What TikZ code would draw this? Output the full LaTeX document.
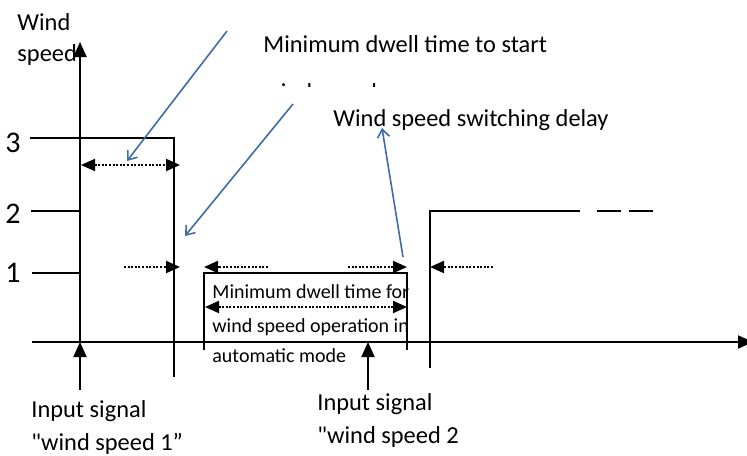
\documentclass[tikz,border=0pt]{standalone}
\usepackage{fontspec}
\setmainfont{Carlito}
\usetikzlibrary{arrows.meta}
\definecolor{bluearr}{RGB}{62,108,168}
\begin{document}
\begin{tikzpicture}[x=0.5pt,y=-0.5pt,
  bline/.style={line width=1pt},
  axisarrow/.style={line width=1pt,-{Triangle[length=7.5pt,width=6.5pt]}},
  dotarrow/.style={line width=1pt,dash pattern=on 1pt off 0.8pt,-{Triangle[length=7pt,width=6pt]}},
  dotboth/.style={line width=1pt,dash pattern=on 1pt off 0.8pt,{Triangle[length=7pt,width=6pt]}-{Triangle[length=7pt,width=6pt]}},
  callout/.style={draw=bluearr,line width=0.8pt,-{Straight Barb[length=4pt,width=6pt]}},
  lbl/.style={inner sep=0pt,anchor=base west,font=\fontsize{12.2}{14}\selectfont},
  digit/.style={inner sep=0pt,anchor=base west,font=\fontsize{15}{17}\selectfont},
  boxtxt/.style={inner sep=0pt,anchor=base west,font=\fontsize{10}{12}\selectfont}]
\useasboundingbox (0,0) rectangle (747,455);
% coordinates
\coordinate (O) at (80,342);
\coordinate (ytip) at (80,42);
\coordinate (xs) at (32,342);
\coordinate (xe) at (753,342);
\coordinate (in1) at (80,390);
\coordinate (in2b) at (368,390);
\coordinate (in2t) at (368,342);
\coordinate (l3a) at (30,138);
\coordinate (l3b) at (174,138);
\coordinate (l3c) at (174,377);
\coordinate (t2) at (31,211);
\coordinate (y2) at (80,211);
\coordinate (t1) at (32,273);
\coordinate (y1) at (80,273);
\coordinate (b1) at (204,350);
\coordinate (b2) at (204,273);
\coordinate (b3) at (407,273);
\coordinate (b4) at (407,350);
\coordinate (c1) at (430,368);
\coordinate (c2) at (430,211);
\coordinate (c3) at (580,211);
\coordinate (d1) at (597,211);
\coordinate (d2) at (621,211);
\coordinate (d3) at (629,211);
\coordinate (d4) at (653,211);
\coordinate (p1) at (81,165);
\coordinate (p2) at (180,165);
\coordinate (q1) at (124,267);
\coordinate (q2) at (180,267);
\coordinate (r1) at (268,267);
\coordinate (r2) at (204,267);
\coordinate (s1) at (348,267);
\coordinate (s2) at (407,267);
\coordinate (m1) at (205,307);
\coordinate (m2) at (407,307);
\coordinate (u1) at (493,267);
\coordinate (u2) at (430,267);
\coordinate (a1s) at (227,31);
\coordinate (a1e) at (127,161);
\coordinate (a2s) at (293,104);
\coordinate (a2e) at (185,236);
\coordinate (a3s) at (403,257);
\coordinate (a3e) at (382,128);
% axes
\draw[axisarrow] (O) -- (ytip);
\draw[axisarrow] (xs) -- (xe);
\draw[axisarrow] (in1) -- (O);
\draw[axisarrow] (in2b) -- (in2t);
% levels
\draw[bline] (l3a) -- (l3b) -- (l3c);
\draw[bline] (t2) -- (y2);
\draw[bline] (t1) -- (y1);
\draw[bline] (b1) -- (b2) -- (b3) -- (b4);
\draw[bline] (c1) -- (c2) -- (c3);
\draw[bline] (d1) -- (d2);
\draw[bline] (d3) -- (d4);
% dotted arrows
\draw[dotboth] (p1) -- (p2);
\draw[dotarrow] (q1) -- (q2);
\draw[dotarrow] (r1) -- (r2);
\draw[dotarrow] (s1) -- (s2);
\draw[dotboth] (m1) -- (m2);
\draw[dotarrow] (u1) -- (u2);
% callouts
\draw[callout] (a1s) -- (a1e);
\draw[callout] (a2s) -- (a2e);
\draw[callout] (a3s) -- (a3e);
% texts
\node[lbl] (wind) at (17,30) {Wind};
\node[lbl] (speed) at (17,61) {speed};
\node[digit] (n3) at (5,152) {3};
\node[digit] (n2) at (5,223) {2};
\node[digit] (n1) at (5,282) {1};
\node[lbl] (start) at (263,52) {Minimum dwell time to start};
\begin{scope}
\clip (250,60) rectangle (600,86);
\node[lbl] (start2) at (263,100) {wind speed};
\end{scope}
\node[lbl] (delay) at (333,126) {Wind speed switching delay};
\node[boxtxt] (bx1) at (212,298) {Minimum dwell time for};
\node[boxtxt] (bx2) at (212,332) {wind speed operation in};
\node[boxtxt] (bx3) at (212,362) {automatic mode};
\node[lbl] (inA1) at (31,417) {Input signal};
\node[lbl] (inA2) at (31,450) {\textquotedbl wind speed 1”};
\node[lbl] (inB1) at (317,410) {Input signal};
\node[lbl] (inB2) at (317,443) {\textquotedbl wind speed 2};
\end{tikzpicture}
\end{document}
